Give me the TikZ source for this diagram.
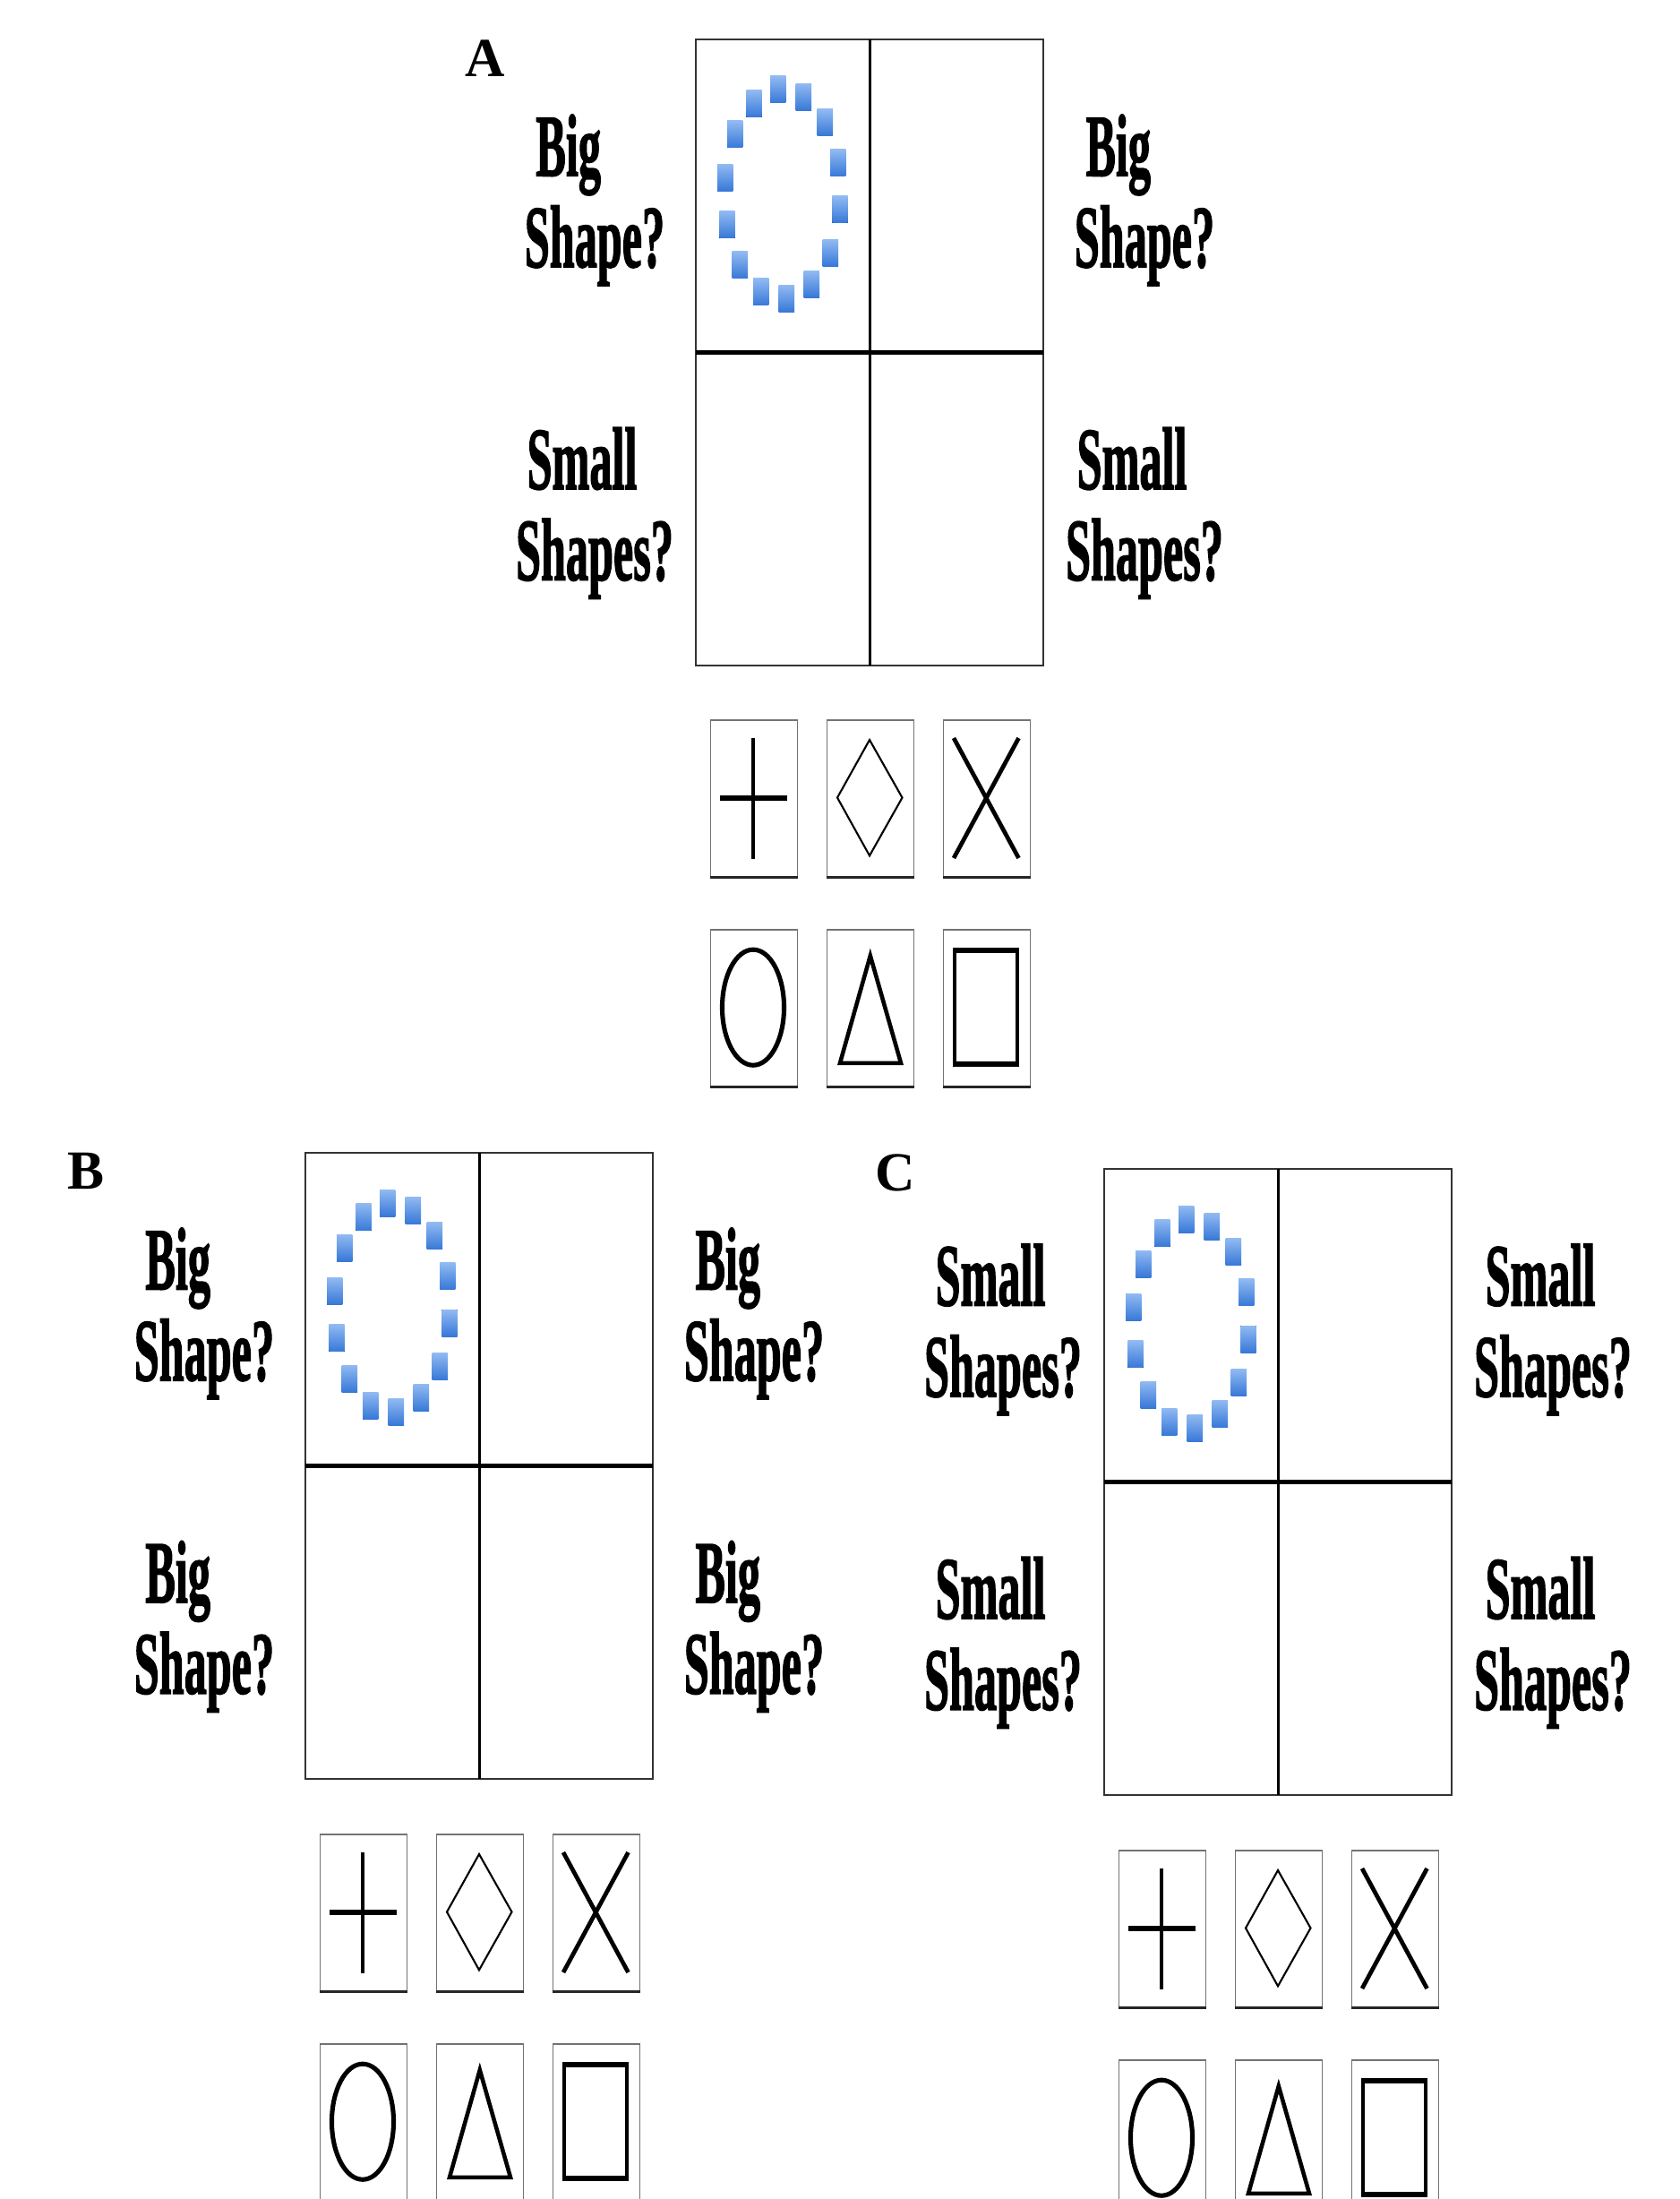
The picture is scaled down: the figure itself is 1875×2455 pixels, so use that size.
\documentclass[tikz,border=0pt]{standalone}
\usepackage{fontspec}
\setmainfont{Liberation Serif}
\newfontfamily\heavyserif[FakeBold=2]{Liberation Serif Bold}
\definecolor{sqtop}{RGB}{145,186,242}
\definecolor{sqbot}{RGB}{55,120,215}
\newcommand{\lbltext}[2]{\scalebox{0.51}[1]{\begin{tabular}[b]{@{}l@{}}\hspace*{0.25em}#1\\#2\end{tabular}}}
% grid panel: #1 prefix, #2 left x, #3 top y, #4/#5 top label lines, #6/#7 bottom label lines
\newcommand{\gridpanel}[7]{%
  \begin{scope}[shift={(#2,#3)}]
    \foreach \sx/\sy in {91.7/56,120.3/64.3,144.3/92.7,158.7/137.7,161/190,150.3/238.3,129.3/273.3,101.3/289.3,72.7/282,49.3/252,35/206.7,32.7/154.3,43.7/106,65/71.7}
      \fill[bluesq] (\sx-8.7,\sy-15) rectangle (\sx+8.7,\sy+15);
    \draw[gridouter] (0,0) rectangle (388,699);
    \draw[gridv] (194,0) -- (194,699);
    \draw[gridh] (0,349.5) -- (388,349.5);
    \node[lbl] (#1-tl) at (-113,254) {\lbltext{#4}{#5}};
    \node[lbl] (#1-tr) at (501,254) {\lbltext{#4}{#5}};
    \node[lbl] (#1-bl) at (-113,603.5) {\lbltext{#6}{#7}};
    \node[lbl] (#1-br) at (501,603.5) {\lbltext{#6}{#7}};
  \end{scope}}
% upper card row: #1 prefix, #2 centre x, #3 top y
\newcommand{\shapecardsup}[3]{%
  \node[cardbox] (#1-plus) at (#2-178.5,#3) {};
  \node[cardbox] (#1-diam) at (#2-48.5,#3) {};
  \node[cardbox] (#1-cross) at (#2+81.5,#3) {};
  \draw[cardbottom] (#1-plus.south west) -- (#1-plus.south east);
  \draw[cardbottom] (#1-diam.south west) -- (#1-diam.south east);
  \draw[cardbottom] (#1-cross.south west) -- (#1-cross.south east);
  \begin{scope}[shift={(#2-178.5,#3)}]
    \draw[line width=1.14pt] (48.5,20.6) -- (48.5,155.6);
    \draw[line width=1.9pt] (11,88) -- (86,88);
  \end{scope}
  \begin{scope}[shift={(#2-48.5,#3)}]
    \draw[line width=0.6pt, line join=miter] (48.5,23) -- (85,87.5) -- (48.5,152.3) -- (12.5,87.5) -- cycle;
  \end{scope}
  \begin{scope}[shift={(#2+81.5,#3)}]
    \draw[line width=1.35pt] (12.5,21) -- (85,155) (85,21) -- (12.5,155);
  \end{scope}}
% lower card row
\newcommand{\shapecardsdown}[3]{%
  \node[cardbox] (#1-oval) at (#2-178.5,#3) {};
  \node[cardbox] (#1-tri) at (#2-48.5,#3) {};
  \node[cardbox] (#1-rect) at (#2+81.5,#3) {};
  \draw[cardbottom] (#1-oval.south west) -- (#1-oval.south east);
  \draw[cardbottom] (#1-tri.south west) -- (#1-tri.south east);
  \draw[cardbottom] (#1-rect.south west) -- (#1-rect.south east);
  \begin{scope}[shift={(#2-178.5,#3)}]
    \draw[line width=1.45pt] (48.5,87.7) ellipse [x radius=3.45mm, y radius=6.45mm];
  \end{scope}
  \begin{scope}[shift={(#2-48.5,#3)}]
    \draw[line width=1.3pt, line join=miter] (49.3,30) -- (83.5,149.8) -- (15.5,149.8) -- cycle;
  \end{scope}
  \begin{scope}[shift={(#2+81.5,#3)}]
    \draw[line width=1.1pt] (13.5,23.7) rectangle (83.8,151.3);
    \draw[line width=1.7pt] (11.7,23.7) -- (85.7,23.7) (11.7,151.3) -- (85.7,151.3);
  \end{scope}}
\begin{document}
\begin{tikzpicture}[x=0.01cm,y=-0.01cm,
  gridouter/.style={draw=black!80, line width=0.6pt},
  gridv/.style={draw=black, line width=0.85pt},
  gridh/.style={draw=black, line width=1.4pt},
  lbl/.style={inner sep=0pt, anchor=base, font=\fontsize{28}{28.93}\selectfont\heavyserif},
  letter/.style={inner sep=0pt, anchor=base west, font=\fontsize{17.5}{20}\selectfont\bfseries},
  cardbox/.style={draw=black!55, line width=0.45pt, minimum width=9.7mm, minimum height=17.5mm, inner sep=0pt, anchor=north west},
  cardbottom/.style={draw=black!85, line width=0.8pt},
  bluesq/.style={top color=sqtop, bottom color=sqbot, draw=none}]
\useasboundingbox (0,0) rectangle (1875,2455);
\fill[white] (0,0) rectangle (1875,2455);
\clip (0,0) rectangle (1875,2455);
% panel letters
\node[letter] (labA) at (519,86) {A};
\node[letter] (labB) at (75,1327) {B};
\node[letter] (labC) at (977,1329) {C};
% panel A
\gridpanel{A}{777}{44}{Big}{Shape?}{Small}{Shapes?}
\shapecardsup{A}{971}{803}
\shapecardsdown{A}{971}{1037}
% panel B
\gridpanel{B}{341}{1287}{Big}{Shape?}{Big}{Shape?}
\shapecardsup{B}{535}{2047}
\shapecardsdown{B}{535}{2281}
% panel C
\gridpanel{C}{1233}{1305}{Small}{Shapes?}{Small}{Shapes?}
\shapecardsup{C}{1427}{2065}
\shapecardsdown{C}{1427}{2299}
\end{tikzpicture}
\end{document}
